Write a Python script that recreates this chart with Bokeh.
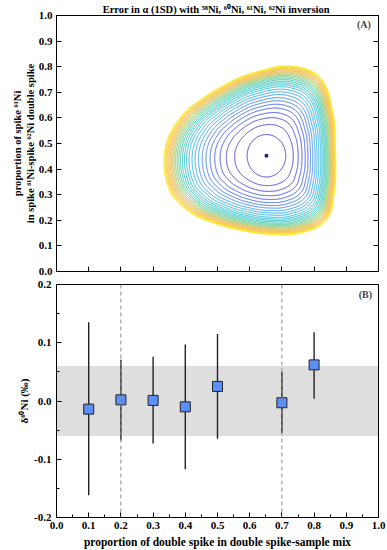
import numpy as np
from bokeh.plotting import figure
from bokeh.layouts import column
from bokeh.models import (Range1d, LinearAxis, Label, Span, BoxAnnotation,
                          FixedTicker, NumeralTickFormatter, CustomLabelingPolicy)
from bokeh.embed import file_html
from bokeh.resources import INLINE

FONT = "Liberation Serif"

# ---------------- Panel A data ----------------
title_text = "Error in \u03b1 (1SD) with \u2075\u2078Ni, \u2076\u2070Ni,  \u2076\u00b9Ni, \u2076\u00b2Ni inversion"
ylab_a_line1 = "proportion of spike \u2076\u00b9Ni"
ylab_a_line2 = "in spike \u2076\u00b9Ni-spike \u2076\u00b2Ni double spike"
min_x = 0.652
min_y = 0.452
inner_rx = 0.060
inner_ry = 0.083
outer_x = [0.867, 0.864, 0.842, 0.811, 0.758, 0.718, 0.675, 0.572, 0.48, 0.40,
           0.356, 0.339, 0.333, 0.336, 0.348, 0.364, 0.426, 0.519, 0.625, 0.727,
           0.811, 0.852, 0.867]
outer_y = [0.454, 0.585, 0.717, 0.775, 0.799, 0.806, 0.799, 0.762, 0.700, 0.628,
           0.553, 0.497, 0.439, 0.380, 0.322, 0.284, 0.218, 0.175, 0.148, 0.141,
           0.168, 0.218, 0.350]
level_frac = [0.0, 0.15, 0.25, 0.325, 0.39, 0.445, 0.495, 0.54, 0.585, 0.625,
              0.662, 0.698, 0.727, 0.753, 0.777, 0.8, 0.821, 0.841, 0.86, 0.878,
              0.895, 0.911, 0.926, 0.94, 0.953, 0.965, 0.977, 0.989, 1.0]
yticks_a = [0.0, 0.1, 0.2, 0.3, 0.4, 0.5, 0.6, 0.7, 0.8, 0.9, 1.0]

# ---------------- Panel B data ----------------
ds_fraction = [0.1, 0.2, 0.3, 0.4, 0.5, 0.7, 0.8]
delta60 = [-0.014, 0.002, 0.001, -0.010, 0.025, -0.003, 0.062]
delta60_hi = [0.135, 0.071, 0.076, 0.097, 0.115, 0.050, 0.118]
delta60_lo = [-0.162, -0.068, -0.073, -0.117, -0.065, -0.055, 0.004]
band_half = 0.06
marked_fractions = [0.2, 0.7]
xticks = [0.0, 0.1, 0.2, 0.3, 0.4, 0.5, 0.6, 0.7, 0.8, 0.9, 1.0]
xminor = [0.05, 0.15, 0.25, 0.35, 0.45, 0.55, 0.65, 0.75, 0.85, 0.95]
yticks_b = [-0.2, -0.1, 0.0, 0.1, 0.2]
yminor_b = [-0.15, -0.05, 0.05, 0.15]
xlab_b = "proportion of double spike in double spike-sample mix"
ylab_b = "\u03b4\u2076\u2070Ni (\u2030)"

# ---------------- colours (by contour fraction) ----------------
anchors = [(0.0, "#4a34c8"), (0.25, "#4444d8"), (0.42, "#3f5eec"), (0.54, "#3f8af2"),
           (0.65, "#2cb2e4"), (0.75, "#26c2c8"), (0.83, "#5cc89a"), (0.88, "#a8c860"),
           (0.92, "#eeb44c"), (0.96, "#f5c240"), (1.0, "#f9ea16")]


def cmap(t):
    pos = [a[0] for a in anchors]
    rgb = np.array([[int(c[i:i + 2], 16) for i in (1, 3, 5)] for _, c in anchors], float)
    r = np.interp(t, pos, rgb[:, 0]); g = np.interp(t, pos, rgb[:, 1]); b = np.interp(t, pos, rgb[:, 2])
    return "#%02x%02x%02x" % (int(round(r)), int(round(g)), int(round(b)))


HIDE = "for (const i of indices) { indices.unset(i) }"


def style_axis(ax, labels=True, minor=False, ticks=True):
    ax.major_tick_in = 5 if ticks else 0
    ax.major_tick_out = 0
    ax.minor_tick_in = 3 if minor else 0
    ax.minor_tick_out = 0
    ax.major_tick_line_color = "black" if ticks else None
    ax.minor_tick_line_color = "black" if minor else None
    ax.axis_line_color = "black"
    ax.major_label_text_font = FONT
    ax.major_label_text_font_style = "bold"
    ax.major_label_text_color = "black"
    ax.axis_label_text_font = FONT
    ax.axis_label_text_font_style = "bold"
    ax.axis_label_text_color = "black"
    ax.axis_label_text_font_size = "11px"
    if labels:
        ax.major_label_text_font_size = "11px"
        ax.major_label_standoff = 5
    else:
        ax.major_label_text_font_size = "0px"
        ax.major_label_standoff = 0
        ax.major_label_policy = CustomLabelingPolicy(code=HIDE)


# ---------------- contour geometry for panel A ----------------
px = np.array(outer_x + [outer_x[0]]) - min_x
py = np.array(outer_y + [outer_y[0]]) - min_y
cum = np.concatenate([[0.0], np.cumsum(np.hypot(np.diff(px), np.diff(py)))])
tt = np.linspace(0, cum[-1], 3000)
bx = np.interp(tt, cum, px)
by = np.interp(tt, cum, py)
ang = np.arctan2(by, bx)
rad = np.hypot(bx, by)
order = np.argsort(ang)
theta = np.linspace(-np.pi, np.pi, 721)
R_out = np.interp(theta, ang[order], rad[order], period=2 * np.pi)
k = 10
R_pad = np.concatenate([R_out[-k - 1:-1], R_out, R_out[1:k + 1]])
R_out = np.convolve(R_pad, np.ones(2 * k + 1) / (2 * k + 1), mode="same")[k:-k]
R_in = 1.0 / np.sqrt((np.cos(theta) / inner_rx) ** 2 + (np.sin(theta) / inner_ry) ** 2)

xs, ys, cols = [], [], []
for s in level_frac:
    r = R_in + s * (R_out - R_in)
    xs.append(list(min_x + r * np.cos(theta)))
    ys.append(list(min_y + r * np.sin(theta)))
    cols.append(cmap(s))

# ---------------- Panel A figure ----------------
p1 = figure(width=387, height=278, x_range=Range1d(0, 1), y_range=Range1d(0, 1),
            output_backend="svg", toolbar_location=None,
            min_border_left=56, min_border_right=9, min_border_top=15, min_border_bottom=7)
p1.title.text = title_text
p1.title.align = "center"
p1.title.text_font = FONT
p1.title.text_font_style = "bold"
p1.title.text_font_size = "10.5px"
p1.title.text_color = "black"
p1.title.standoff = 2
p1.grid.visible = False
p1.outline_line_color = "black"
p1.xaxis.ticker = FixedTicker(ticks=xticks)
p1.yaxis.ticker = FixedTicker(ticks=yticks_a)
p1.yaxis.formatter = NumeralTickFormatter(format="0.0")
style_axis(p1.xaxis[0], labels=False)
style_axis(p1.yaxis[0], labels=True)
p1.yaxis.axis_label = ylab_a_line1 + "\n" + ylab_a_line2
p1.yaxis.axis_label_text_font_size = "10.5px"
p1.yaxis.axis_label_standoff = 0
p1.yaxis.major_label_standoff = 4
ra = LinearAxis(ticker=FixedTicker(ticks=yticks_a))
style_axis(ra, labels=False)
p1.add_layout(ra, "right")

p1.multi_line(xs=xs, ys=ys, line_color=cols, line_width=1.0)
p1.scatter(x=[min_x], y=[min_y], marker="square", size=2.5, color="#15156a")

p1.add_layout(Label(x=0.976, y=0.963, text="(A)", text_align="right", text_baseline="middle",
                    text_font=FONT, text_font_style="bold", text_font_size="10px"))

# ---------------- Panel B figure ----------------
p2 = figure(width=387, height=272, x_range=Range1d(0, 1), y_range=Range1d(-0.2, 0.2),
            output_backend="svg", toolbar_location=None,
            min_border_left=56, min_border_right=9, min_border_top=6, min_border_bottom=0)
p2.grid.visible = False
p2.outline_line_color = "black"
p2.xaxis.ticker = FixedTicker(ticks=xticks, minor_ticks=xminor)
p2.yaxis.ticker = FixedTicker(ticks=yticks_b, minor_ticks=yminor_b)
p2.xaxis.formatter = NumeralTickFormatter(format="0.0")
p2.yaxis.formatter = NumeralTickFormatter(format="0.0")
style_axis(p2.xaxis[0], labels=True, minor=True)
style_axis(p2.yaxis[0], labels=True, minor=True)
p2.xaxis.major_label_standoff = 4
p2.xaxis.axis_label = xlab_b
p2.xaxis.axis_label_text_font_size = "11.5px"
p2.xaxis.axis_label_standoff = 4
p2.yaxis.axis_label = ylab_b
p2.yaxis.axis_label_standoff = 1
rb = LinearAxis(ticker=FixedTicker(ticks=yticks_b))
style_axis(rb, labels=False, ticks=False)
p2.add_layout(rb, "right")

p2.add_layout(BoxAnnotation(bottom=-band_half, top=band_half, fill_color="#dedede",
                            fill_alpha=1.0, line_color=None, level="underlay"))
for xm in marked_fractions:
    p2.add_layout(Span(location=xm, dimension="height", line_color="#8a8a8a",
                       line_width=1, line_dash="4 3"))
p2.segment(x0=ds_fraction, y0=delta60_lo, x1=ds_fraction, y1=delta60_hi,
           line_color="#222222", line_width=1.4)
p2.scatter(x=ds_fraction, y=delta60, marker="square", size=10, fill_color="#5b8ff9",
           line_color="#222222", line_width=1)

p2.add_layout(Label(x=0.98, y=0.183, text="(B)", text_align="right", text_baseline="middle",
                    text_font=FONT, text_font_style="bold", text_font_size="10px"))

layout = column(p1, p2, spacing=0)
open("out.html", "w").write(file_html(layout, INLINE))
